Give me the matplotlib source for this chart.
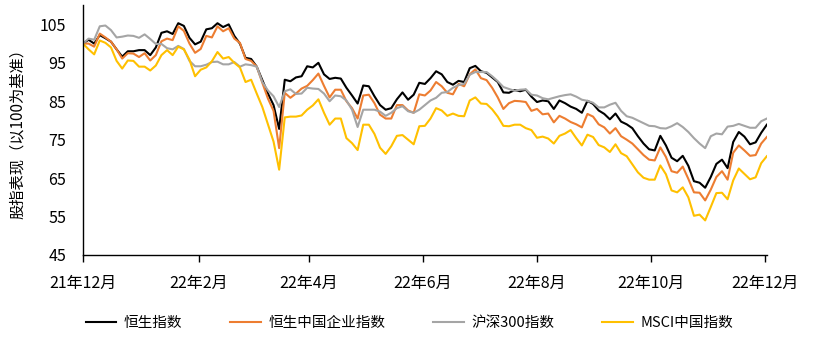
import pandas as pd
import matplotlib
matplotlib.use("Agg")
import matplotlib.pyplot as plt

plt.rcParams['font.family'] = ['Noto Sans CJK SC', 'DejaVu Sans']

# 指数走势，以2021-12-01为100，每3天取一个点
hsi = [100.0, 101.0, 100.0, 102.2, 101.4, 100.5, 98.5, 96.6, 98.0, 98.0,
       98.3, 98.3, 97.0, 99.0, 102.8, 103.2, 102.5, 105.3, 104.6, 101.5,
       99.8, 100.5, 103.7, 104.0, 105.3, 104.3, 105.0, 102.0, 100.0, 96.3,
       96.0, 94.0, 90.5, 87.0, 84.0, 77.8, 90.6, 90.2, 91.2, 91.5,
       94.1, 93.8, 95.0, 92.0, 90.8, 91.1, 90.9, 88.5, 86.5, 84.4,
       89.1, 88.9, 86.3, 84.0, 82.8, 83.2, 85.5, 87.3, 85.4, 86.7,
       89.8, 89.5, 91.0, 92.8, 92.0, 90.0, 89.3, 90.3, 90.0, 93.6,
       94.2, 92.8, 92.4, 91.2, 90.0, 87.3, 87.2, 87.9, 87.6, 88.0,
       86.2, 84.8, 85.2, 85.0, 83.0, 85.2, 84.5, 83.6, 83.0, 82.0,
       85.1, 84.3, 82.6, 81.7, 80.3, 81.8, 79.7, 79.0, 78.0, 75.9,
       74.0, 72.5, 72.2, 76.0, 73.5, 70.3, 69.4, 70.8, 68.2, 64.2,
       63.8, 62.5, 65.3, 68.7, 69.8, 67.6, 74.4, 77.0, 75.8, 73.8,
       74.3, 76.8, 78.9]

hscei = [100.0, 100.0, 99.2, 102.6, 101.6, 100.5, 98.5, 96.1, 97.5, 97.4,
         96.5, 97.5, 95.6, 97.0, 100.6, 101.3, 100.9, 104.5, 103.3, 100.0,
         97.6, 98.6, 102.0, 101.6, 104.5, 103.2, 104.0, 101.3, 100.2, 96.0,
         95.5, 94.0, 89.8, 85.7, 82.5, 72.8, 87.2, 85.9, 87.0, 88.3,
         89.0, 90.5, 92.2, 89.0, 86.0, 88.0, 88.0, 85.0, 83.2, 80.5,
         86.5, 86.7, 84.5, 81.5, 80.5, 80.5, 84.0, 84.0, 82.6, 82.0,
         86.8, 86.5, 87.8, 90.0, 88.9, 87.2, 86.8, 89.5, 88.9, 92.0,
         93.3, 91.0, 90.5, 88.5, 86.0, 83.0, 84.5, 85.1, 85.0, 84.8,
         82.5, 83.0, 81.6, 81.8, 79.5, 81.2, 80.5, 79.6, 79.0, 78.2,
         81.7, 81.0, 79.0, 78.2, 76.6, 78.0, 75.9, 75.0, 74.0, 72.5,
         71.0, 69.8, 69.6, 73.0, 70.5, 66.8, 66.4, 68.0, 64.8, 61.3,
         61.2, 59.2, 62.0, 65.3, 66.8, 64.6, 71.6, 73.5, 72.2, 70.8,
         71.0, 74.0, 75.7]

csi300 = [100.0, 101.3, 101.0, 104.5, 104.7, 103.5, 101.6, 101.8, 102.1, 102.0,
          101.5, 102.4, 101.2, 99.9, 99.9, 98.8, 98.5, 99.4, 98.6, 95.5,
          94.1, 94.1, 94.5, 95.2, 95.3, 94.6, 94.6, 95.2, 94.0, 94.6,
          94.4, 94.0, 90.0, 87.8, 86.3, 83.5, 87.6, 88.1, 86.9, 87.0,
          88.5, 88.3, 88.2, 87.0, 85.0, 86.5, 86.3, 85.2, 82.8, 78.3,
          82.8, 82.8, 82.8, 82.3, 81.2, 82.0, 83.2, 83.7, 82.4, 82.0,
          82.8, 84.0, 85.2, 85.9, 87.2, 87.4, 88.5, 89.2, 89.5, 91.9,
          92.6, 92.6, 92.6, 91.5, 90.2, 88.7, 88.2, 87.7, 88.0, 88.1,
          86.7, 86.5, 85.8, 85.5, 85.9, 86.3, 86.6, 86.8, 86.2, 85.4,
          85.1, 84.6, 83.4, 83.4, 84.1, 84.6, 82.5, 81.1, 80.7, 80.0,
          79.3, 78.6, 78.5, 78.0, 77.9, 78.5, 79.3, 78.3, 77.0, 75.4,
          74.0, 72.8, 75.9, 76.6, 76.4, 78.4, 78.6, 79.1, 78.6, 78.1,
          78.1, 79.8, 80.5]

msci_china = [100.0, 98.5, 97.2, 100.8, 100.2, 99.0, 95.5, 93.5, 95.6, 95.5,
              94.0, 94.0, 93.0, 94.3, 97.0, 98.3, 97.0, 99.2, 98.5, 95.8,
              91.5, 93.2, 93.8, 95.4, 97.8, 96.1, 96.5, 95.0, 93.8, 90.0,
              90.6, 87.0, 83.5, 79.0, 74.5, 67.2, 80.8, 81.0, 81.0, 81.3,
              82.8, 83.9, 85.5, 82.0, 78.9, 80.5, 80.5, 75.4, 74.1, 72.3,
              78.9, 78.9, 76.5, 72.9, 71.3, 73.3, 76.0, 76.2, 75.0, 73.8,
              78.5, 78.6, 80.5, 83.2, 82.6, 81.2, 81.8, 81.2, 81.1, 85.2,
              86.0, 84.4, 84.3, 82.9, 81.0, 78.6, 78.5, 78.9, 78.9, 78.0,
              77.5, 75.5, 75.8, 75.3, 74.0, 76.0, 76.6, 77.5, 75.4, 73.5,
              76.3, 75.7, 73.6, 73.0, 71.8, 73.8, 71.5, 70.7, 68.6, 66.5,
              65.1, 64.6, 64.6, 68.3, 66.0, 61.8, 61.3, 62.6, 60.0, 55.2,
              55.5, 54.0, 57.5, 61.1, 61.2, 59.5, 64.4, 67.5, 66.1, 64.7,
              65.2, 68.9, 70.7]

dates = pd.date_range("2021-12-01", periods=len(hsi), freq="3D")

series_names = ["恒生指数", "恒生中国企业指数", "沪深300指数", "MSCI中国指数"]
series_colors = ["#000000", "#ED7D31", "#A5A5A5", "#FFC000"]

tick_dates = pd.to_datetime(["2021-12-01", "2022-02-01", "2022-04-01",
                             "2022-06-01", "2022-08-01", "2022-10-01", "2022-12-01"])
tick_labels = ["21年12月", "22年2月", "22年4月", "22年6月", "22年8月", "22年10月", "22年12月"]
y_ticks = [45, 55, 65, 75, 85, 95, 105]

fig = plt.figure(figsize=(8.19, 3.39), dpi=100)
ax = fig.add_axes([0.1013, 0.2478, 0.835, 0.737])

for vals, name, color in zip([hsi, hscei, csi300, msci_china], series_names, series_colors):
    ax.plot(dates, vals, color=color, lw=1.5, label=name)

ax.set_xlim(dates[0], dates[-1])
ax.set_ylim(45, 110)
ax.set_yticks(y_ticks)
ax.set_xticks(tick_dates)
ax.set_xticklabels(tick_labels)

ax.spines["top"].set_visible(False)
ax.spines["right"].set_visible(False)
ax.spines["left"].set_linewidth(1.0)
ax.spines["bottom"].set_linewidth(1.0)
ax.tick_params(axis="y", length=0, pad=12, labelsize=11.5)
ax.tick_params(axis="x", length=5, width=1, direction="out", pad=9, labelsize=11.5)

ax.set_ylabel("股指表现（以100为基准）", fontsize=11, labelpad=10)

fig.legend(loc="center", bbox_to_anchor=(0.5, 0.047), ncol=4, frameon=False,
           fontsize=10.5, handlelength=2.1, handletextpad=0.5, columnspacing=3.3)

fig.savefig("out.png", dpi=100)
